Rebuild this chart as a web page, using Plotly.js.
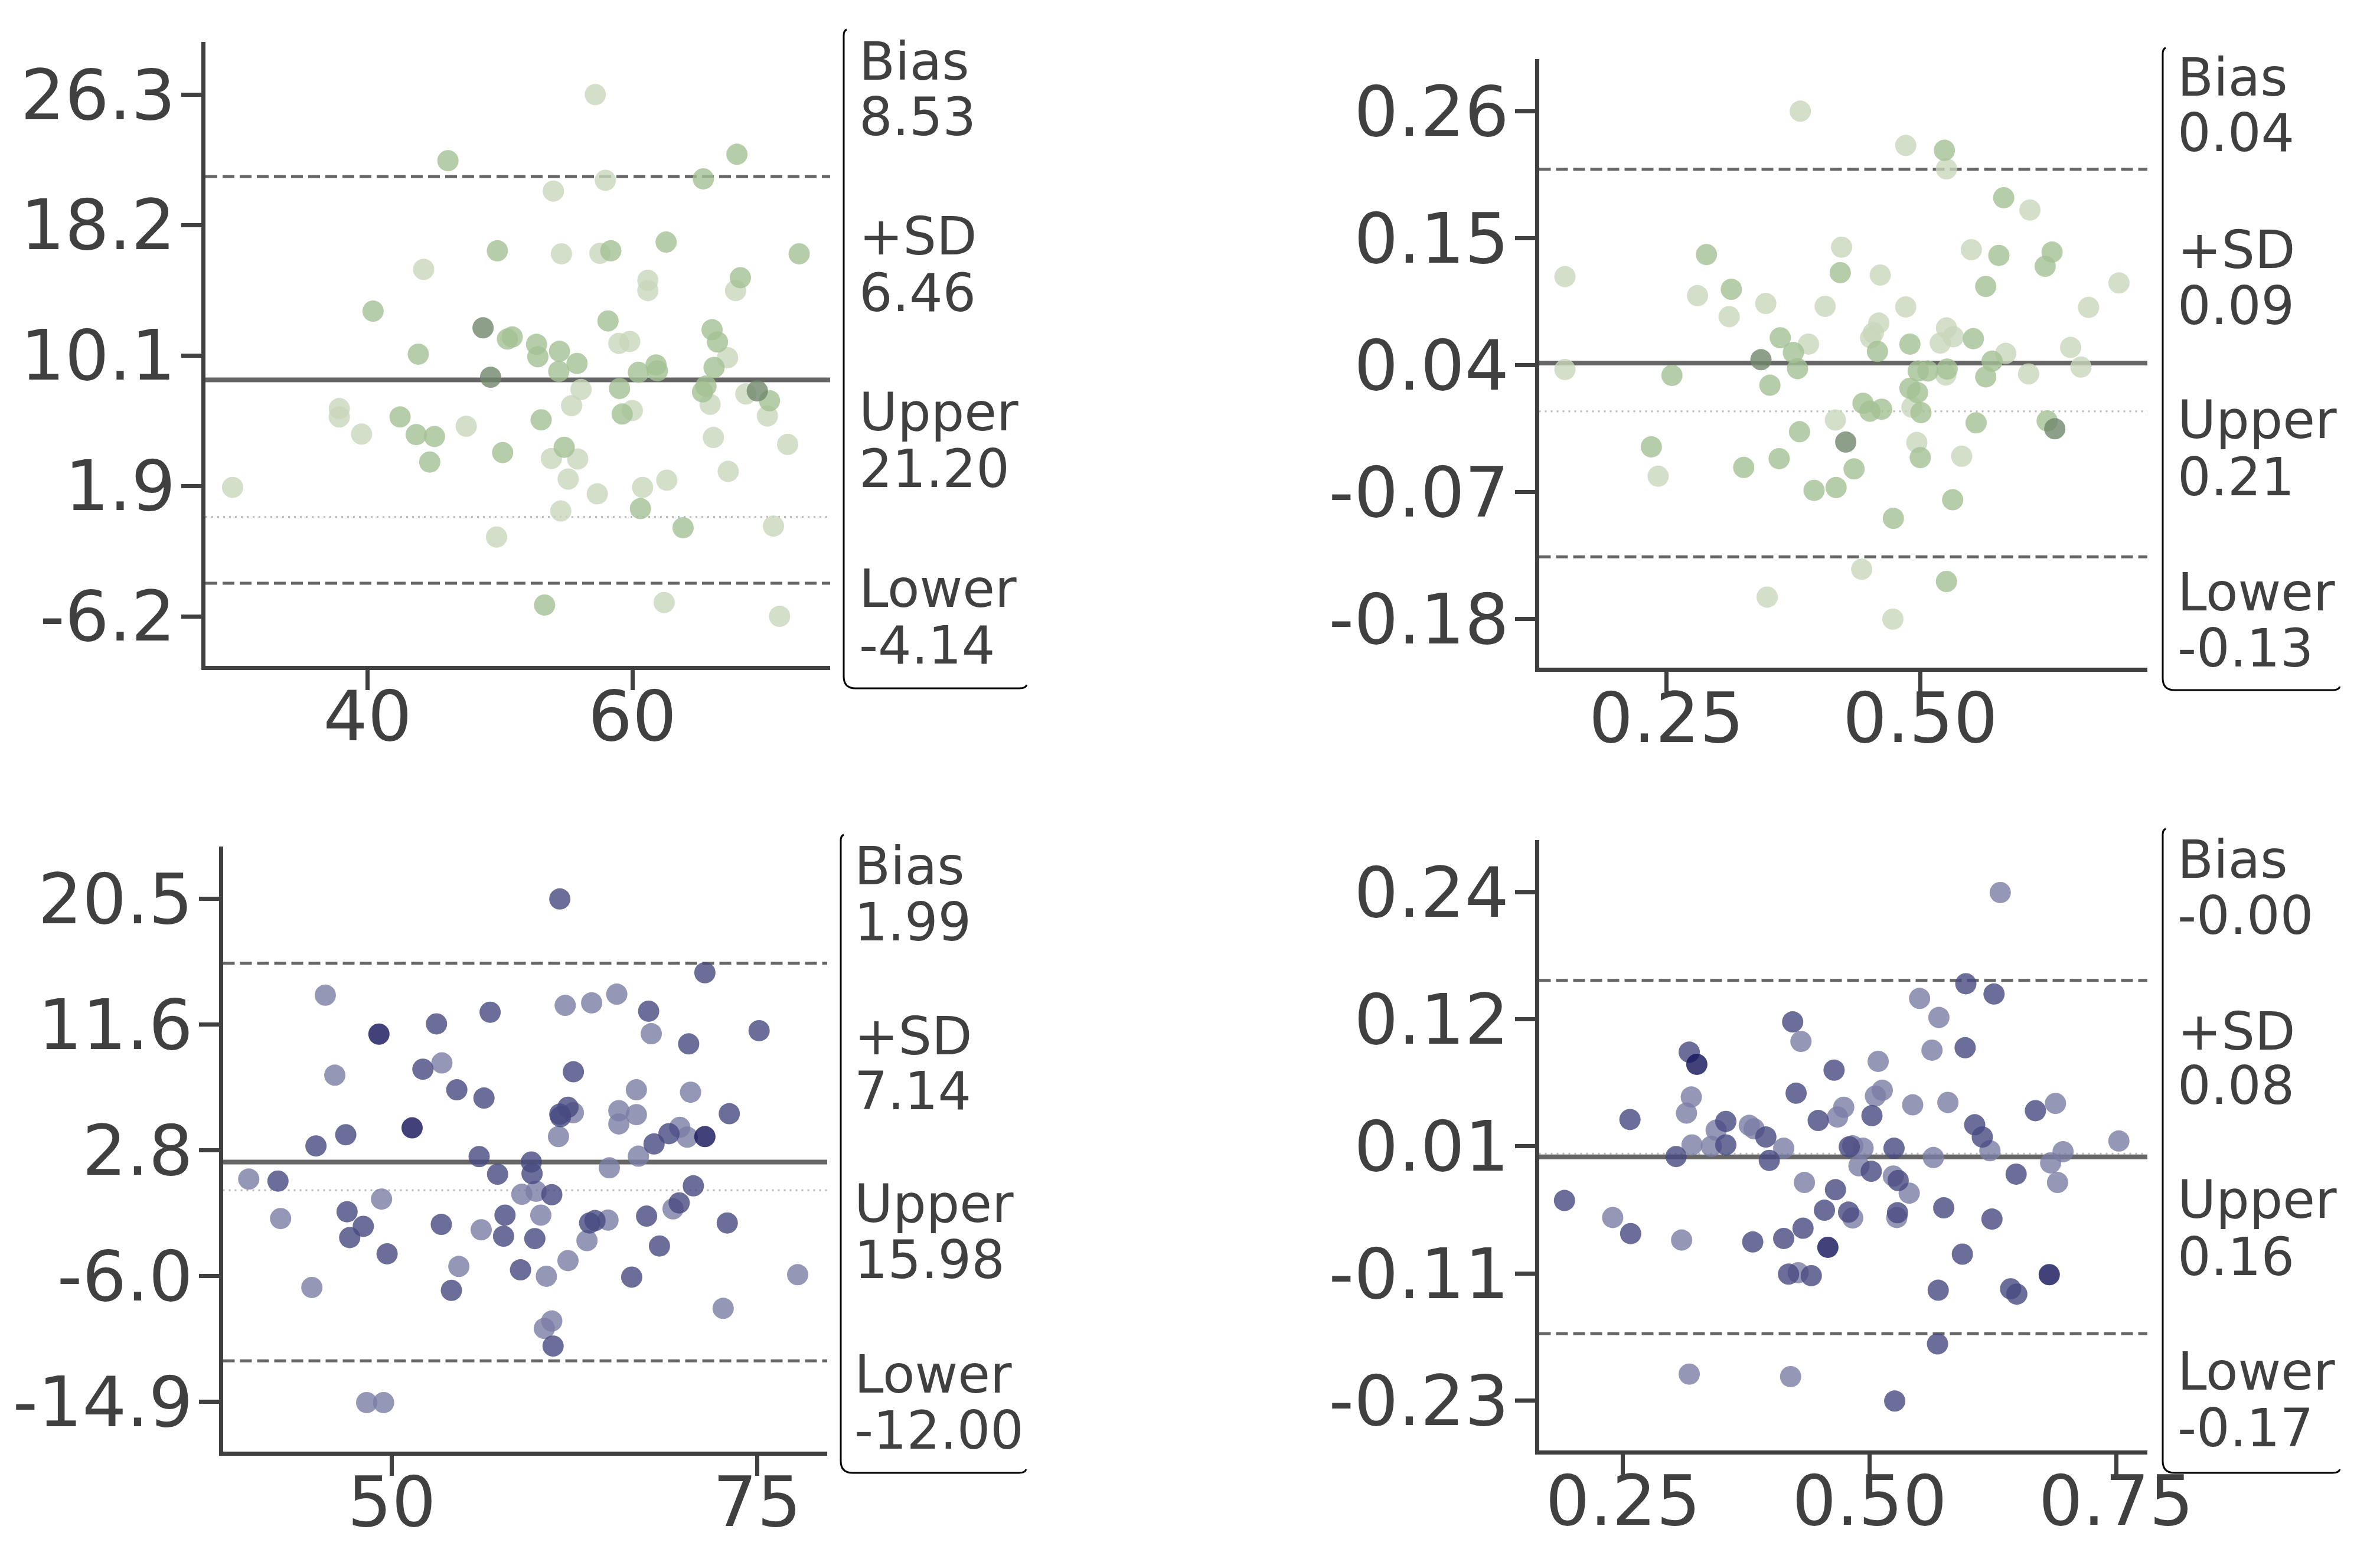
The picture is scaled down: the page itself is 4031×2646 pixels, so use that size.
<!DOCTYPE html>
<html>
<head>
<meta charset="utf-8">
<script src="https://cdn.plot.ly/plotly-3.0.1.min.js"></script>
<style>html,body{margin:0;padding:0;background:#fff;}#chart{width:4031px;height:2646px;}</style>
</head>
<body>
<div id="chart"></div>
<script>
// ---------------- DATA ----------------
// shade: 0 = light, 1 = medium, 2 = dark
const tlX = [29.8,57.2,46.07,67.9,65.36,57.96,54.03,49.8,54.64,57.55,58.37,62.55,72.6,44.23,61.17,61.17,68.16,67.8,40.41,48.72,50.56,50.92,58.16,58.98,59.8,66.02,66.43,43.83,52.76,52.86,54.49,55.82,54.44,60.46,61.79,61.89,67.19,66.17,49.29,56.12,59.03,65.56,65.3,68.57,69.44,70.36,55.41,60.0,59.23,65.87,70.2,37.86,37.86,42.45,47.45,53.11,39.54,43.67,45.05,66.12,71.73,50.2,54.85,53.88,55.87,44.69,55.15,62.6,67.24,57.35,60.77,60.61,54.59,63.83,70.66,49.74,53.37,62.4,71.12];
const tlY = [1.83,26.3,22.18,22.58,21.05,20.96,20.29,16.57,16.38,16.41,16.57,17.11,16.38,15.41,14.73,14.09,14.89,14.09,12.81,11.77,11.07,11.2,12.2,10.8,10.92,11.65,10.89,10.13,10.74,9.97,10.31,9.55,9.06,9.0,9.46,9.09,9.91,9.3,8.69,7.93,7.99,8.14,7.78,7.65,7.84,7.23,6.92,6.62,6.4,7.01,6.28,6.74,6.22,6.22,5.64,6.04,5.15,5.12,5.0,4.94,4.51,4.0,4.33,3.63,3.6,3.41,2.35,2.28,2.83,1.43,1.83,0.51,0.36,-0.68,-0.58,-1.26,-5.5,-5.34,-6.2];
const tlShade = [0,0,1,1,1,0,0,1,0,0,1,1,1,0,0,0,1,0,1,2,1,1,1,0,0,1,1,1,1,1,1,1,1,1,1,1,0,1,2,0,1,1,1,0,2,1,0,0,1,0,0,0,0,1,0,1,0,1,1,0,0,1,1,0,0,1,0,0,0,0,0,1,0,1,0,0,1,0,0];

const trX = [0.3818,0.4857,0.5238,0.5258,0.5822,0.608,0.150,0.150,0.2894,0.4225,0.4212,0.4606,0.5503,0.5774,0.6298,0.623,0.2806,0.3139,0.5645,0.6957,0.3118,0.3478,0.4063,0.4857,0.6658,0.4592,0.5258,0.4511,0.4538,0.3621,0.3899,0.4898,0.5197,0.5326,0.5523,0.375,0.4578,0.5842,0.6481,0.3431,0.3791,0.5707,0.6583,0.2554,0.498,0.5075,0.5265,0.5251,0.5645,0.6067,0.3519,0.4898,0.4973,0.4436,0.4504,0.462,0.4918,0.5007,0.4164,0.555,0.625,0.6325,0.3811,0.2351,0.4266,0.4966,0.361,0.5,0.5408,0.2418,0.3261,0.4348,0.3954,0.4171,0.5319,0.4735,0.4423,0.5258,0.3492,0.473];
const trY = [0.26,0.2303,0.2261,0.21,0.185,0.1744,0.1167,0.0362,0.1358,0.1422,0.1201,0.118,0.14,0.135,0.1379,0.1256,0.1002,0.1057,0.1082,0.1112,0.082,0.0934,0.0909,0.0904,0.09,0.0764,0.0722,0.0637,0.068,0.0637,0.0582,0.0582,0.0591,0.0646,0.0629,0.051,0.0519,0.0502,0.0553,0.0447,0.037,0.0434,0.0383,0.0311,0.0349,0.0349,0.0366,0.0315,0.0298,0.0324,0.0226,0.02,0.0162,0.0069,0.0001,0.0018,0.0035,-0.0011,-0.0075,-0.01,-0.0083,-0.0151,-0.0177,-0.0308,-0.0266,-0.027,-0.041,-0.0401,-0.0389,-0.0562,-0.0486,-0.0499,-0.0685,-0.066,-0.0766,-0.0927,-0.1368,-0.1474,-0.1609,-0.18];
const trShade = [0,0,1,0,1,0,0,0,1,0,1,0,0,1,1,1,0,1,1,0,0,0,0,0,0,0,0,0,0,1,0,1,0,0,1,1,1,0,0,2,1,1,0,1,1,1,1,0,1,0,1,1,1,1,1,1,0,1,0,1,1,2,1,1,2,0,1,1,0,0,1,1,1,1,1,1,0,1,0,0];

const blX = [61.5,71.43,45.45,65.4,61.87,63.68,56.73,67.58,53.06,49.12,67.76,70.32,75.14,46.1,52.13,53.43,62.43,54.45,56.31,66.74,70.45,62.06,62.43,61.55,61.5,65.54,65.54,66.74,73.1,51.39,46.85,44.81,61.41,67.95,68.97,69.71,70.22,71.43,66.88,55.98,59.55,59.6,64.89,40.21,42.21,57.24,70.64,58.9,59.88,60.95,49.3,69.67,69.25,42.39,46.94,57.75,60.2,67.44,48.05,53.39,63.54,63.91,64.8,72.96,47.12,56.12,57.65,59.79,63.36,68.32,49.68,54.59,58.81,60.58,62.06,66.42,77.78,44.53,54.08,72.68,60.95,60.44,61.04,48.28,49.44];
const blY = [20.5,15.31,13.73,13.8,13.01,13.19,12.53,12.6,11.71,10.99,11.02,10.3,11.23,8.1,8.52,8.96,8.34,7.07,6.49,7.07,6.9,5.84,5.46,5.18,5.36,5.6,4.67,5.32,5.39,4.39,3.91,3.12,3.78,3.26,3.98,4.43,3.74,3.78,2.4,2.37,1.99,1.17,1.58,0.79,0.65,1.13,0.31,-0.28,-0.07,-0.31,-0.62,-0.89,-1.31,-1.99,-1.51,-1.75,-1.75,-1.82,-2.54,-2.4,-2.3,-2.13,-2.1,-2.3,-3.33,-2.78,-3.23,-3.4,-3.54,-3.92,-4.47,-5.36,-5.6,-6.05,-4.95,-6.11,-5.94,-6.84,-7.04,-8.31,-9.2,-9.72,-10.96,-14.94,-14.94];
const blShade = [1,1,0,0,0,0,1,1,1,2,0,1,1,0,1,0,1,1,1,0,0,1,0,1,1,0,0,0,1,2,1,1,0,1,1,0,0,2,0,1,1,1,0,0,1,1,1,0,0,1,0,1,0,0,1,1,0,1,1,1,1,1,0,1,1,0,1,1,0,1,1,0,1,0,0,1,0,0,1,0,0,0,1,0,0];

const brX = [0.6325,0.5976,0.6262,0.5507,0.5703,0.422,0.4304,0.5969,0.5633,0.3171,0.3248,0.5087,0.464,0.4255,0.5129,0.5059,0.3192,0.5437,0.5794,0.6885,0.6682,0.3143,0.4738,0.4675,0.5024,0.4479,0.257,0.3542,0.3444,0.378,0.3829,0.3948,0.6066,0.6143,0.3199,0.3395,0.3542,0.4129,0.4794,0.4829,0.4934,0.5248,0.622,0.6962,0.7528,0.3038,0.5647,0.3983,0.6836,0.4892,0.5017,0.5241,0.529,0.6486,0.4339,0.6906,0.5402,0.4654,0.1906,0.5752,0.4542,0.4787,0.4829,0.5283,0.5276,0.6241,0.2395,0.2577,0.4325,0.3094,0.3815,0.4129,0.4577,0.5941,0.4178,0.4276,0.4409,0.6822,0.5696,0.643,0.6493,0.5689,0.3171,0.4199,0.5255];
const brY = [0.2418,0.1573,0.1478,0.1437,0.1261,0.122,0.1039,0.0981,0.0958,0.094,0.0827,0.0854,0.0773,0.056,0.0587,0.0533,0.0524,0.0452,0.0474,0.0465,0.0398,0.0375,0.0429,0.0339,0.0352,0.0307,0.0316,0.0298,0.0217,0.0262,0.023,0.0154,0.0267,0.0154,0.0081,0.0068,0.0081,0.005,0.0063,0.0072,0.005,0.005,0.0027,0.0018,0.0117,-0.0027,-0.0036,-0.0063,-0.0086,-0.0113,-0.0163,-0.0208,-0.0249,-0.019,-0.0267,-0.0267,-0.0366,-0.0334,-0.0434,-0.0502,-0.0524,-0.0542,-0.0596,-0.0547,-0.0592,-0.0606,-0.0592,-0.0741,-0.0691,-0.08,-0.0818,-0.0786,-0.0868,-0.0931,-0.1116,-0.1103,-0.113,-0.1121,-0.1265,-0.1252,-0.1301,-0.1762,-0.2042,-0.2065,-0.2291];
const brShade = [0,1,1,0,0,1,0,1,0,1,2,0,1,1,0,0,0,0,0,0,1,0,0,0,1,1,1,1,0,0,0,1,1,1,0,0,1,0,1,0,0,1,0,0,0,1,0,1,0,0,1,0,1,1,0,0,0,1,1,1,1,1,0,1,0,1,0,1,1,0,1,1,2,1,1,0,1,2,1,1,1,1,0,0,1];

// reference lines: bias, upper, lower
const tlLines = [8.53, 21.20, -4.14];
const trLines = [0.0418, 0.2096, -0.1260];
const blLines = [1.99, 15.98, -12.00];
const brLines = [-0.0031, 0.1604, -0.1667];

// text box labels
const tlText = ['Bias','8.53','+SD','6.46','Upper','21.20','Lower','-4.14'];
const trText = ['Bias','0.04','+SD','0.09','Upper','0.21','Lower','-0.13'];
const blText = ['Bias','1.99','+SD','7.14','Upper','15.98','Lower','-12.00'];
const brText = ['Bias','-0.00','+SD','0.08','Upper','0.16','Lower','-0.17'];

// tick values / labels
const tlYTicks = [-6.2, 1.925, 10.05, 18.175, 26.3];
const tlYLabels = ['-6.2','1.9','10.1','18.2','26.3'];
const trYTicks = [-0.18, -0.07, 0.04, 0.15, 0.26];
const trYLabels = ['-0.18','-0.07','0.04','0.15','0.26'];
const blYTicks = [-14.9, -6.05, 2.8, 11.65, 20.5];
const blYLabels = ['-14.9','-6.0','2.8','11.6','20.5'];
const brYTicks = [-0.2287, -0.1111, 0.0068, 0.1245, 0.2418];
const brYLabels = ['-0.23','-0.11','0.01','0.12','0.24'];
const tlXTicks = [40, 60];   const tlXLabels = ['40','60'];
const trXTicks = [0.25, 0.5]; const trXLabels = ['0.25','0.50'];
const blXTicks = [50, 75];   const blXLabels = ['50','75'];
const brXTicks = [0.25, 0.5, 0.75]; const brXLabels = ['0.25','0.50','0.75'];

// ---------------- LAYOUT ----------------
const W = 4031, H = 2646;
const FONT = 'DejaVu Sans';
const AX = '#404040';
const greens = ['rgba(200,215,187,0.8)','rgba(164,192,148,0.8)','rgba(112,135,106,0.8)'];
const purples = ['rgba(123,125,165,0.8)','rgba(71,74,129,0.8)','rgba(19,19,89,0.8)'];

const panels = [
  {x:tlX,y:tlY,s:tlShade,cols:greens,lines:tlLines,text:tlText,yt:tlYTicks,yl:tlYLabels,xt:tlXTicks,xl:tlXLabels,
   dom:[348,1406,71,1127.5], xr:[27.75,74.94], yr:[-9.27,29.58],
   tx:1454, ty:[104,198,400,496,698,794,997,1093], box:[1429,52,1737,1166]},
  {x:trX,y:trY,s:trShade,cols:greens,lines:trLines,text:trText,yt:trYTicks,yl:trYLabels,xt:trXTicks,xl:trXLabels,
   dom:[2606.5,3637,99.5,1130.5], xr:[0.1244,0.7237], yr:[-0.2218,0.3054],
   tx:3687, ty:[131,225,423,518,711,808,1003,1098], box:[3663,83,3961,1169]},
  {x:blX,y:blY,s:blShade,cols:purples,lines:blLines,text:blText,yt:blYTicks,yl:blYLabels,xt:blXTicks,xl:blXLabels,
   dom:[377.5,1401,1434,2458.5], xr:[38.44,79.8], yr:[-18.37,24.19],
   tx:1446, ty:[1467,1562,1755,1848,2039,2134,2328,2423], box:[1424,1416,1736,2495]},
  {x:brX,y:brY,s:brShade,cols:purples,lines:brLines,text:brText,yt:brYTicks,yl:brYLabels,xt:brXTicks,xl:brXLabels,
   dom:[2606.5,3637,1423,2456.5], xr:[0.1647,0.7817], yr:[-0.2746,0.2904],
   tx:3687, ty:[1456,1551,1747,1839,2032,2129,2323,2419], box:[3663,1406,3961,2495]}
];

const px = p => p / W;
const py = p => 1 - p / H;

const traces = [];
const layout = {
  width: W, height: H,
  margin: {l:0, r:0, t:0, b:0},
  paper_bgcolor: '#ffffff', plot_bgcolor: 'rgba(0,0,0,0)',
  showlegend: false,
  font: {family: FONT, color: AX},
  shapes: [], annotations: []
};

panels.forEach((p, i) => {
  const n = i + 1;
  const xa = 'x' + (n === 1 ? '' : n), ya = 'y' + (n === 1 ? '' : n);
  const xkey = 'xaxis' + (n === 1 ? '' : n), ykey = 'yaxis' + (n === 1 ? '' : n);
  [0, 1, 2].forEach(level => {
    const xs = [], ys = [];
    p.x.forEach((v, k) => { if (p.s[k] === level) { xs.push(v); ys.push(p.y[k]); } });
    traces.push({type:'scatter', mode:'markers', x:xs, y:ys, xaxis:xa, yaxis:ya,
      marker:{size:36, color:p.cols[level], line:{width:0}}, hoverinfo:'skip', cliponaxis:false});
  });
  const common = {showgrid:false, zeroline:false, showline:true, linecolor:AX, linewidth:7,
    ticks:'outside', ticklen:34, tickwidth:7, tickcolor:AX,
    tickfont:{family:FONT, size:118, color:AX}, tickmode:'array', fixedrange:true};
  layout[xkey] = Object.assign({}, common, {domain:[px(p.dom[0]), px(p.dom[1])], range:p.xr,
    anchor:ya, tickvals:p.xt, ticktext:p.xl, ticklabelstandoff:-56});
  layout[ykey] = Object.assign({}, common, {domain:[py(p.dom[3]), py(p.dom[2])], range:p.yr,
    anchor:xa, tickvals:p.yt, ticktext:p.yl, ticklabelstandoff:-14});
  const xd = xa + ' domain';
  layout.shapes.push({type:'line', layer:'below', xref:xd, yref:ya, x0:0, x1:1, y0:0, y1:0,
    line:{color:'#bbbbbb', width:3, dash:'3px,7px'}});
  layout.shapes.push({type:'line', layer:'below', xref:xd, yref:ya, x0:0, x1:1, y0:p.lines[0], y1:p.lines[0],
    line:{color:'#666666', width:8}});
  [1, 2].forEach(j => layout.shapes.push({type:'line', layer:'below', xref:xd, yref:ya, x0:0, x1:1,
    y0:p.lines[j], y1:p.lines[j], line:{color:'#666666', width:5, dash:'20px,9px'}}));
  const [bl, bt, br, bb] = p.box, r = 20;
  const P = (a, b) => px(a) + ',' + py(b);
  const path = 'M ' + P(bl + 5, bt - 2) + ' Q ' + P(bl, bt) + ' ' + P(bl, bt + 8) +
    ' L ' + P(bl, bb - r) + ' Q ' + P(bl, bb) + ' ' + P(bl + r, bb) +
    ' L ' + P(br - 10, bb) + ' Q ' + P(br, bb) + ' ' + P(br + 2, bb - 6);
  layout.shapes.push({type:'path', xref:'paper', yref:'paper', path:path, line:{color:'#000000', width:3}});
  p.text.forEach((t, k) => {
    layout.annotations.push({text:t, xref:'paper', yref:'paper', x:px(p.tx), y:py(p.ty[k]),
      xanchor:'left', yanchor:'middle', showarrow:false, borderpad:0,
      font:{family:FONT, size:89, color:AX}});
  });
});

Plotly.newPlot('chart', traces, layout, {displayModeBar:false, staticPlot:true});
</script>
</body>
</html>
